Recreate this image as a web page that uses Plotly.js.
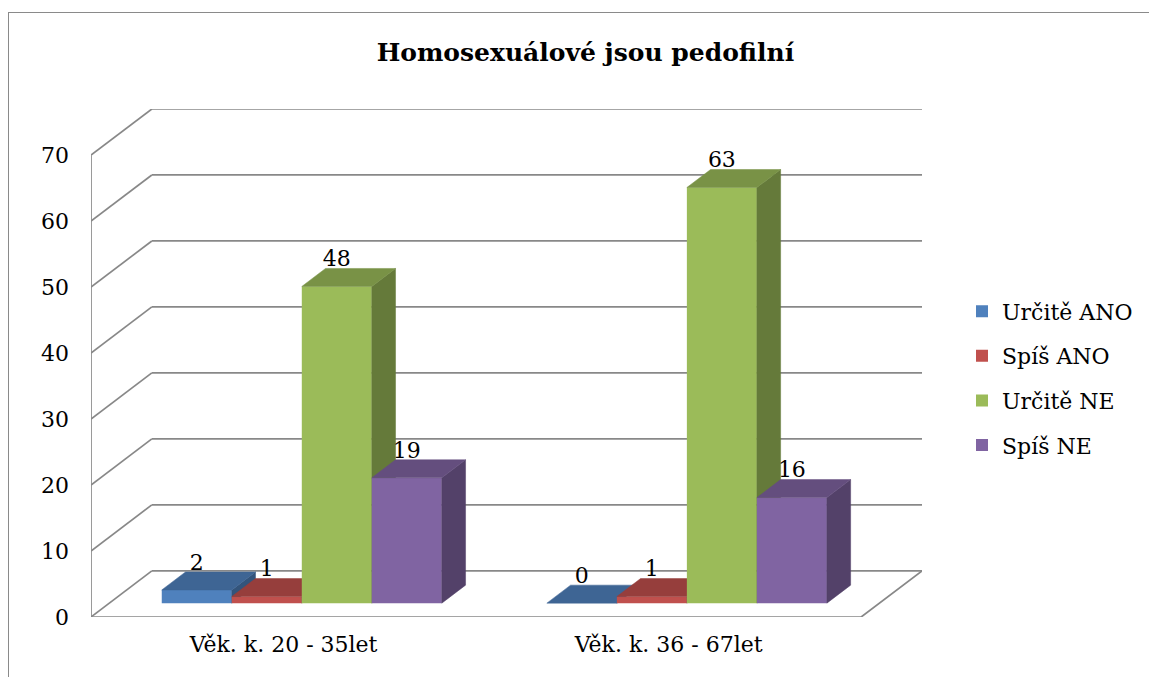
<!DOCTYPE html>
<html><head><meta charset="utf-8">
<script src="https://cdn.plot.ly/plotly-3.0.1.min.js"></script>
<style>
html,body{margin:0;padding:0;background:#fff;overflow:hidden;width:1149px;height:677px;}
#frame{position:absolute;left:8px;top:12px;width:1160px;height:680px;border-left:1.5px solid #8a8a8a;border-top:1.5px solid #8a8a8a;}
#chart{position:absolute;left:0;top:0;width:1149px;height:677px;}
</style></head>
<body><div id="frame"></div><div id="chart"></div>
<script>
// ---- data ----
const categories = ['Věk. k. 20 - 35let', 'Věk. k. 36 - 67let'];
const seriesNames = ['Určitě ANO', 'Spíš ANO', 'Určitě NE', 'Spíš NE'];
const urciteAno = [2, 0];
const spisAno = [1, 1];
const urciteNe = [48, 63];
const spisNe = [19, 16];
const yTickValues = [0, 10, 20, 30, 40, 50, 60, 70];
const titleText = 'Homosexuálové jsou pedofilní';

// ---- styles ----
const frontColors = ['#4F81BD', '#C0504D', '#9BBB59', '#8064A2'];
const topColors   = ['#3E6594', '#963E3C', '#799246', '#644E7E'];
const sideColors  = ['#33547B', '#7D3432', '#657A3A', '#534169'];
const gridColor = '#888888';
const FONT = '"DejaVu Serif", serif';

// ---- oblique 3D projection parameters ----
const DX = 0.158;      // depth shift in category units
const DY = 7;          // depth shift in value units
const D0 = 0.30, D1 = 0.69; // bar depth span
const W = 1 / 5.5;     // bar width (gap width 150%)
const HALFGAP = 0.75 * W;
const LABEL_LIFT = 1.15;
const YMAX = 77;

const seriesValues = [urciteAno, spisAno, urciteNe, spisNe];
const traces = [];

// walls / floor / gridlines
const gx = [], gy = [];
const xEnd = categories.length;
yTickValues.forEach(v => {
  gx.push(DX, xEnd + DX, null); gy.push(v + DY, v + DY, null);   // back wall gridline
  gx.push(0, DX, null); gy.push(v, v + DY, null);                 // left wall diagonal
});
const vMax = yTickValues[yTickValues.length - 1];
gx.push(0, 0, null); gy.push(0, vMax, null);                  // left front edge
gx.push(0, xEnd, xEnd + DX, null); gy.push(0, 0, DY, null);   // floor front + right edge
traces.push({type: 'scatter', mode: 'lines', x: gx, y: gy, line: {color: gridColor, width: 1.7},
  hoverinfo: 'skip', showlegend: false, xaxis: 'x', yaxis: 'y'});

const ddx = (D1 - D0) * DX, ddy = (D1 - D0) * DY, base = D0 * DY;
const labelX = [], labelY = [], labelT = [];

seriesValues.forEach((vals, i) => {
  const ax = 'x' + (i + 2), ay = 'y' + (i + 2);
  const centers = vals.map((v, k) => k + HALFGAP + (i + 0.5) * W + D0 * DX);
  traces.push({type: 'bar', name: seriesNames[i], x: centers, y: vals, base: base, width: W,
    marker: {color: frontColors[i], line: {width: 0}}, xaxis: ax, yaxis: ay, hoverinfo: 'skip',
    legendgroup: 'g' + i});
  vals.forEach((v, k) => {
    const xl = centers[k] - W / 2, xr = centers[k] + W / 2, top = base + v;
    traces.push({type: 'scatter', mode: 'lines', fill: 'toself', fillcolor: sideColors[i],
      line: {color: sideColors[i], width: 0.5},
      x: [xr, xr + ddx, xr + ddx, xr, xr], y: [base, base + ddy, top + ddy, top, base],
      xaxis: ax, yaxis: ay, showlegend: false, hoverinfo: 'skip'});
    traces.push({type: 'scatter', mode: 'lines', fill: 'toself', fillcolor: topColors[i],
      line: {color: topColors[i], width: 0.5},
      x: [xl, xr, xr + ddx, xl + ddx, xl], y: [top, top, top + ddy, top + ddy, top],
      xaxis: ax, yaxis: ay, showlegend: false, hoverinfo: 'skip'});
    labelX.push(centers[k]); labelY.push(top + ddy + LABEL_LIFT); labelT.push(String(v));
  });
});

traces.push({type: 'scatter', mode: 'text', x: labelX, y: labelY, text: labelT,
  textposition: 'middle center', textfont: {family: FONT, size: 22, color: '#000'},
  cliponaxis: false, showlegend: false, hoverinfo: 'skip', xaxis: 'x5', yaxis: 'y5'});

const xr = [0, xEnd + DX];
const layout = {
  width: 1149, height: 677,
  margin: {l: 91, r: 227, t: 109, b: 60, pad: 0},
  paper_bgcolor: 'rgba(0,0,0,0)', plot_bgcolor: 'rgba(0,0,0,0)',
  barmode: 'overlay',
  font: {family: FONT, color: '#000'},
  title: {text: titleText, x: 0.5095, xanchor: 'center', xref: 'container',
    y: 1 - 52 / 677, yref: 'container', yanchor: 'middle',
    font: {family: FONT, size: 25, weight: 'bold', color: '#000'}},
  xaxis: {range: xr, tickvals: categories.map((c, k) => k + 0.5), ticktext: categories,
    showgrid: false, zeroline: false, showline: false, ticks: '', ticklabelstandoff: 12,
    tickfont: {family: FONT, size: 22, color: '#000'}, fixedrange: true},
  yaxis: {range: [0, YMAX], tickvals: yTickValues, showgrid: false, zeroline: false, showline: false,
    ticks: '', ticklabelstandoff: 21, tickfont: {family: FONT, size: 22, color: '#000'}, fixedrange: true},
  legend: {x: 962 / 1149, xref: 'container', xanchor: 'left', y: 1 - 378.4 / 677, yref: 'container',
    yanchor: 'middle', font: {family: FONT, size: 22, color: '#000'}, tracegroupgap: 13,
    traceorder: 'grouped', bgcolor: 'rgba(0,0,0,0)'},
  showlegend: true
};
for (let i = 2; i <= 5; i++) {
  layout['xaxis' + i] = {overlaying: 'x', range: xr, visible: false, fixedrange: true};
  layout['yaxis' + i] = {overlaying: 'y', range: [0, YMAX], visible: false, fixedrange: true};
}
Plotly.newPlot('chart', traces, layout, {displayModeBar: false, staticPlot: true});
</script>
</body></html>
